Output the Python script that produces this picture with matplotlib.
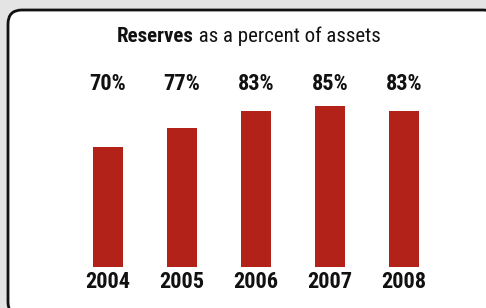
import matplotlib
matplotlib.use("Agg")
import matplotlib.pyplot as plt
from matplotlib import font_manager as fm
from matplotlib.patches import FancyBboxPatch
import matplotlib.transforms as mtransforms

years = ["2004", "2005", "2006", "2007", "2008"]
values = [70, 77, 83, 85, 83]
labels = ["70%", "77%", "83%", "85%", "83%"]

names = sorted({f.name for f in fm.fontManager.ttflist})
cond = None
for cand in ["Liberation Sans Narrow", "DejaVu Sans Condensed", "Roboto Condensed", "Open Sans Condensed"]:
    if cand in names:
        cond = cand
        break
fam = [cond, "DejaVu Sans"] if cond else ["DejaVu Sans"]

W, H = 486, 308
fig = plt.figure(figsize=(W / 100, H / 100), dpi=100)
fig.patch.set_facecolor("#e4e4e4")

bg = fig.add_axes([0, 0, 1, 1], zorder=-5)
bg.set_xlim(0, W)
bg.set_ylim(H, 0)
bg.axis("off")
box = FancyBboxPatch((8, 10), 497 - 8, 316 - 10,
                     boxstyle="round,pad=0,rounding_size=14",
                     facecolor="white", edgecolor="#111111", linewidth=2)
bg.add_patch(box)

# bars axes: baseline at y=267px from top, scale 2.75 px per unit, base value 26.4
px_per = 2.75
base = 26.4
ax_h_px = 200
ax = fig.add_axes([0, (H - 267) / H, 1, ax_h_px / H], zorder=1)
ax.set_xlim(-108 / 74, (W - 108) / 74)
ax.set_ylim(base, base + ax_h_px / px_per)
ax.axis("off")
x = list(range(len(years)))
ax.bar(x, values, width=30 / 74, color="#b22219")

tr = mtransforms.blended_transform_factory(ax.transData, fig.transFigure)
for xi, lab, yr in zip(x, labels, years):
    ax.text(xi, (H - 84) / H, lab, transform=tr, ha="center", va="center",
            fontsize=16, fontweight="bold", family=fam, color="#111111")
    ax.text(xi, (H - 282) / H, yr, transform=tr, ha="center", va="center",
            fontsize=16, fontweight="bold", family=fam, color="#111111")

# title with mixed weights
t1 = fig.text(0, (H - 36) / H, "Reserves", ha="left", va="center", fontsize=15,
              fontweight="bold", family=fam, color="#111111")
t2 = fig.text(0, (H - 36) / H, " as a percent of assets", ha="left", va="center",
              fontsize=15, family=fam, color="#111111")
fig.canvas.draw()
r = fig.canvas.get_renderer()
w1 = t1.get_window_extent(r).width
w2 = t2.get_window_extent(r).width
start = 248.5 - (w1 + w2) / 2
t1.set_x(start / W)
t2.set_x((start + w1) / W)

fig.savefig("out.png", dpi=100, facecolor=fig.get_facecolor())
